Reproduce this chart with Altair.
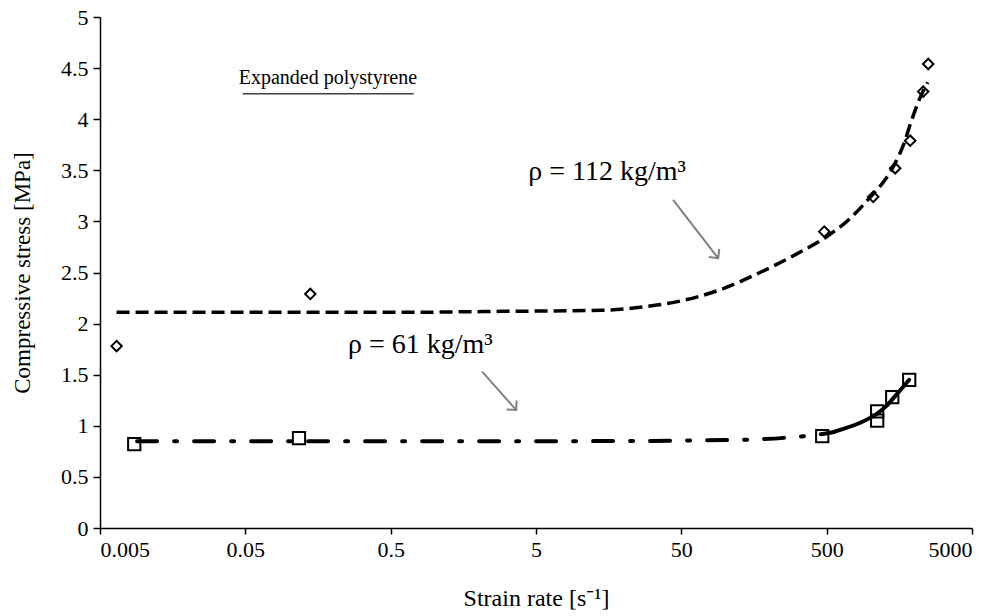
import altair as alt
import pandas as pd

rate_112 = [0.0065, 0.14, 481, 1045, 1480, 1878, 2307, 2498]
stress_112 = [1.78, 2.29, 2.90, 3.24, 3.52, 3.79, 4.27, 4.54]
rate_61 = [0.0086, 0.117, 466, 1113, 1113, 1413, 1849]
stress_61 = [0.82, 0.88, 0.90, 1.14, 1.05, 1.28, 1.45]

# ---- fitted trend curves ----
fit112_rate = [0.0065, 0.5, 3, 14, 26, 49, 92, 174, 329, 500, 726, 1016, 1250, 1480, 1700, 1900, 2150, 2480]
fit112_stress = [2.11, 2.11, 2.12, 2.13, 2.16, 2.22, 2.33, 2.50, 2.70, 2.85, 3.03, 3.25, 3.40, 3.57, 3.76, 3.97, 4.18, 4.36]
fit61a_rate = [0.009, 0.1, 1, 10, 100, 300, 466, 560]
fit61a_stress = [0.85, 0.85, 0.85, 0.85, 0.86, 0.89, 0.92, 0.94]
fit61b_rate = [560, 650, 851, 1000, 1113, 1300, 1500, 1700, 1849]
fit61b_stress = [0.94, 0.97, 1.03, 1.08, 1.12, 1.20, 1.30, 1.39, 1.45]

# ---- axis ticks ----
x_ticks = [0.005, 0.05, 0.5, 5, 50, 500, 5000]
y_ticks = [0, 0.5, 1, 1.5, 2, 2.5, 3, 3.5, 4, 4.5, 5]

# ---- annotations ----
ann_text = ["Expanded polystyrene", "ρ = 112 kg/m³", "ρ = 61 kg/m³"]
ann_x = [0.185, 15.4, 0.80]
ann_y = [4.40, 3.48, 1.79]
ann_size = [20, 28, 28]
underline = {"x": 0.048, "x2": 0.72, "y": 4.25}
arrows_x = [43.9, 2.13]
arrows_y = [3.21, 1.53]
arrows_x2 = [89.6, 3.65]
arrows_y2 = [2.64, 1.155]
arrows_angle = [52, 48]

FONT = "'Liberation Serif', 'Times New Roman', Times, serif"

xs = alt.Scale(type="log", domain=[0.005, 5000])
ys = alt.Scale(domain=[0, 5])


def X(field="x"):
    return alt.X(f"{field}:Q", scale=xs,
                 axis=alt.Axis(values=x_ticks, format="~g", title="Strain rate [s⁻¹]",
                               tickSize=6, labelPadding=5, titlePadding=26, titleFontSize=24))


def Y(field="y"):
    return alt.Y(f"{field}:Q", scale=ys,
                 axis=alt.Axis(values=y_ticks, format="~g", title="Compressive stress [MPa]",
                               tickSize=7, labelPadding=5, titlePadding=26, titleFontSize=23))


df112 = pd.DataFrame({"x": rate_112, "y": stress_112})
df61 = pd.DataFrame({"x": rate_61, "y": stress_61})
dfit112 = pd.DataFrame({"x": fit112_rate, "y": fit112_stress})
dfit61a = pd.DataFrame({"x": fit61a_rate, "y": fit61a_stress})
dfit61b = pd.DataFrame({"x": fit61b_rate, "y": fit61b_stress})
dann = pd.DataFrame({"x": ann_x, "y": ann_y, "t": ann_text, "s": ann_size})
dul = pd.DataFrame([underline])
darr = pd.DataFrame({"x": arrows_x, "y": arrows_y, "x2": arrows_x2, "y2": arrows_y2, "a": arrows_angle})

line112 = alt.Chart(dfit112).mark_line(color="black", strokeWidth=3.5, strokeDash=[13, 6], interpolate="monotone").encode(
    x=X(), y=Y(), order="x:Q")
line61a = alt.Chart(dfit61a).mark_line(color="black", strokeWidth=4, strokeDash=[20, 17, 3, 17], strokeCap="round",
                                       interpolate="monotone").encode(
    x=X(), y=Y(), order="x:Q")
line61b = alt.Chart(dfit61b).mark_line(color="black", strokeWidth=4, strokeCap="round", interpolate="monotone").encode(
    x=X(), y=Y(), order="x:Q")

pts112 = alt.Chart(df112).mark_point(shape="diamond", filled=False, color="black", strokeWidth=2, size=110, opacity=1).encode(
    x=X(), y=Y())
pts61 = alt.Chart(df61).mark_point(shape="square", filled=False, color="black", strokeWidth=2, size=150, opacity=1).encode(
    x=X(), y=Y())

texts = alt.Chart(dann).mark_text(font=FONT, color="black", align="center", baseline="middle").encode(
    x=X(), y=Y(), text="t:N", size=alt.Size("s:Q", scale=None, legend=None))
ul = alt.Chart(dul).mark_rule(color="#404040", strokeWidth=1.5).encode(x=X(), x2="x2:Q", y=Y())
arr = alt.Chart(darr).mark_rule(color="#808080", strokeWidth=2).encode(x=X(), y=Y(), x2="x2:Q", y2="y2:Q")
heads = alt.Chart(darr).mark_point(shape="M -1 -1 L 0 0 L -1 1", filled=False, color="#808080",
                                   strokeWidth=2, size=180, opacity=1).encode(
    x=X("x2"), y=Y("y2"), angle=alt.Angle("a:Q", scale=None))

chart = alt.layer(line112, line61a, line61b, pts112, pts61, ul, arr, heads, texts).properties(
    width=872, height=511,
    autosize=alt.AutoSizeParams(type="none"),
    padding={"left": 100, "top": 17, "right": 32, "bottom": 88},
).configure_view(stroke=None).configure_axis(
    grid=False, domainColor="black", domainWidth=1.5, tickColor="black", tickWidth=1.5,
    labelFont=FONT, labelFontSize=22, labelColor="black",
    titleFont=FONT, titleFontSize=22, titleColor="black", titleFontWeight="normal",
)

chart.save("out.html", embed_options={"renderer": "svg", "actions": False})
